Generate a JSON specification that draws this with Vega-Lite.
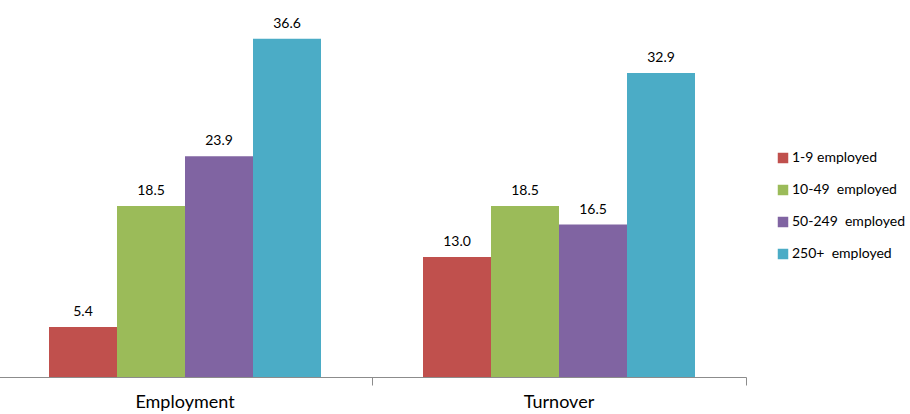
{
  "$schema": "https://vega.github.io/schema/vega-lite/v6.json",
  "width": 748,
  "height": 377,
  "autosize": {"type": "none"},
  "padding": {"left": -2, "top": 0, "right": 164, "bottom": 37},
  "background": "white",
  "config": {"view": {"stroke": null}, "font": "Lato"},
  "data": {"values": [
    {"measure": "Employment", "size": "1-9 employed", "value": 5.4},
    {"measure": "Employment", "size": "10-49\u00a0 employed", "value": 18.5},
    {"measure": "Employment", "size": "50-249\u00a0 employed", "value": 23.9},
    {"measure": "Employment", "size": "250+\u00a0 employed", "value": 36.6},
    {"measure": "Turnover", "size": "1-9 employed", "value": 13.0},
    {"measure": "Turnover", "size": "10-49\u00a0 employed", "value": 18.5},
    {"measure": "Turnover", "size": "50-249\u00a0 employed", "value": 16.5},
    {"measure": "Turnover", "size": "250+\u00a0 employed", "value": 32.9}
  ]},
  "encoding": {
    "x": {"field": "measure", "type": "nominal", "sort": null, "title": null,
      "scale": {"paddingInner": 0, "paddingOuter": 0},
      "axis": {"labelAngle": 0, "labelFontSize": 18, "labelFontWeight": "normal", "labelColor": "#000000", "labelPadding": 8,
        "domainColor": "#8c8c8c", "tickColor": "#8c8c8c", "tickSize": 8, "bandPosition": 1, "labelFont": "Lato"}},
    "xOffset": {"field": "size", "type": "nominal", "sort": null,
      "scale": {"paddingInner": 0, "paddingOuter": 0.75}},
    "y": {"field": "value", "type": "quantitative", "scale": {"domain": [0, 40.8], "nice": false}, "axis": null}
  },
  "layer": [
    {
      "mark": {"type": "bar"},
      "encoding": {
        "color": {"field": "size", "type": "nominal", "sort": null,
          "scale": {"range": ["#C0504D", "#9BBB59", "#8064A2", "#4BACC6"]},
          "legend": {"title": null, "orient": "none", "legendX": 778, "legendY": 151,
            "symbolType": "square", "symbolSize": 110, "symbolStrokeWidth": 0, "labelFontSize": 14, "labelLimit": 300,
            "labelColor": "#000000", "rowPadding": 18, "labelOffset": 2, "labelFont": "Lato", "labelFontWeight": "normal"}}
      }
    },
    {
      "mark": {"type": "text", "baseline": "bottom", "dy": -8, "fontSize": 14, "color": "#000000", "font": "Lato"},
      "encoding": {"text": {"field": "value", "type": "quantitative", "format": ".1f"}}
    }
  ]
}
